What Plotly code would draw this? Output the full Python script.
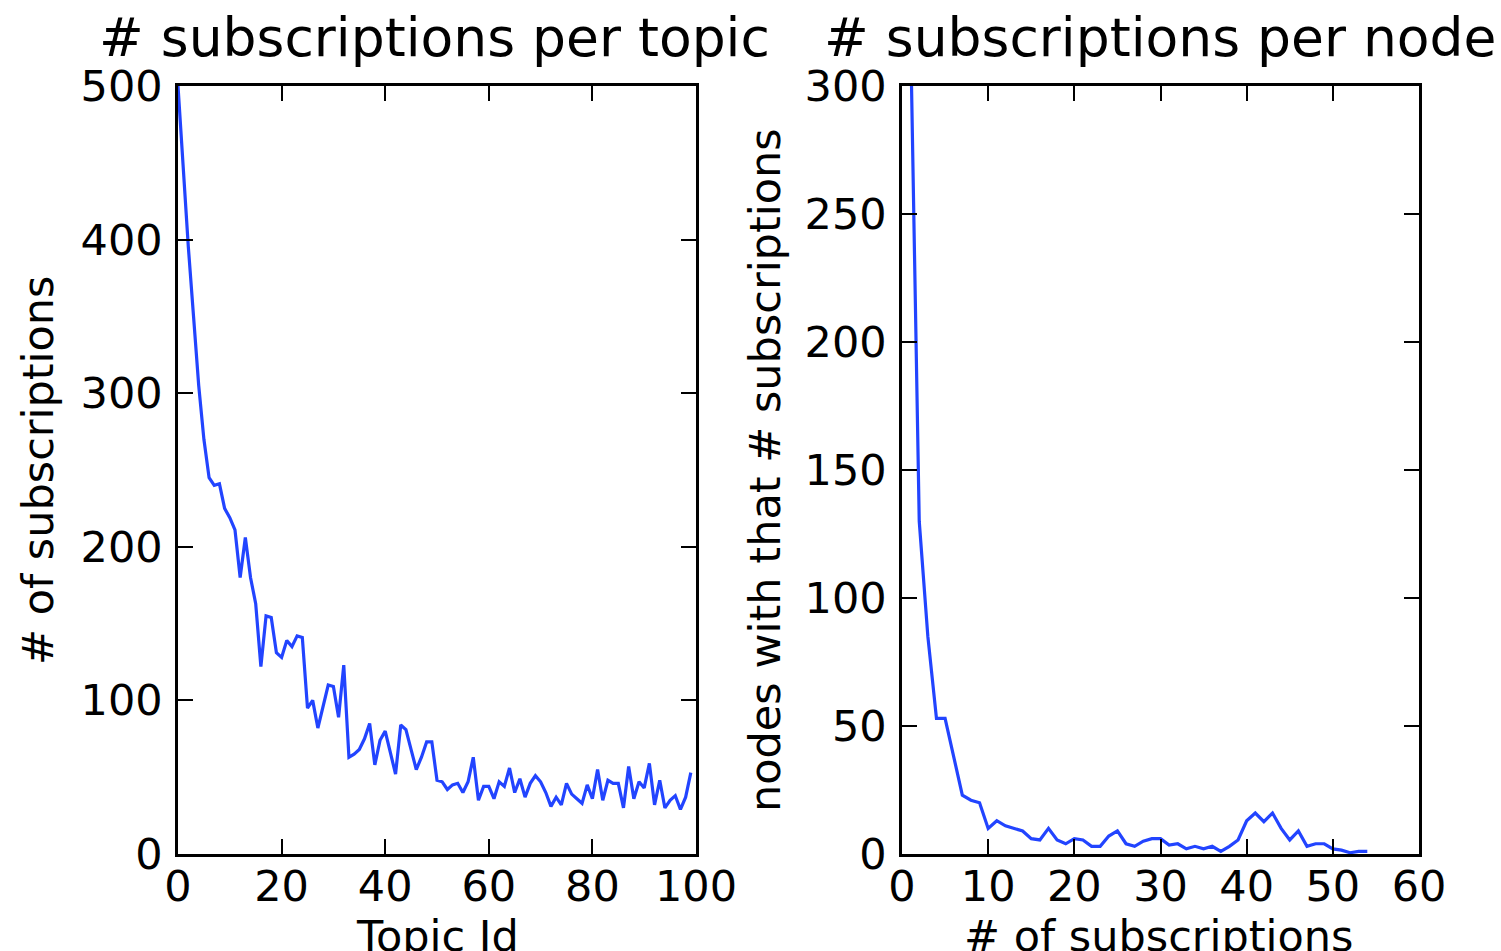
import plotly.graph_objects as go

# Left panel: subscriptions per topic (topic id 0..99)
topic_ids = list(range(100))
topic_subs = [
    500, 445, 395, 350, 305, 270, 245, 240, 241, 225,
    219, 211, 180, 206, 180, 163, 122, 155, 154, 131,
    128, 139, 135, 142, 141, 95, 100, 82, 95, 110,
    109, 89, 123, 63, 65, 68, 75, 85, 58, 74,
    80, 65, 52, 84, 81, 68, 55, 63, 73, 73,
    48, 47, 42, 45, 46, 40, 47, 63, 35, 44,
    44, 36, 47, 44, 56, 40, 49, 37, 46, 51,
    47, 40, 31, 37, 32, 46, 39, 36, 33, 45,
    36, 55, 35, 48, 46, 46, 30, 57, 36, 47,
    43, 59, 32, 48, 30, 35, 38, 29, 37, 53,
]

# Right panel: number of nodes having a given number of subscriptions
n_subs = list(range(1, 55))
n_nodes = [
    320, 130, 85, 53, 53, 38, 23, 21, 20, 10,
    13, 11, 10, 9, 6, 5.5, 10, 5.5, 4, 6,
    5.5, 3, 3, 7, 9, 4, 3, 5, 6, 6,
    3.5, 4, 2, 3, 2, 3, 1, 3, 5.5, 13,
    16, 12.6, 16, 10, 5.5, 9, 3, 4, 4, 2,
    1.5, 0.5, 1, 1,
]

left_xticks = [0, 20, 40, 60, 80, 100]
left_yticks = [0, 100, 200, 300, 400, 500]
right_xticks = [0, 10, 20, 30, 40, 50, 60]
right_yticks = [0, 50, 100, 150, 200, 250, 300]

W, H = 1501, 951
FONT = "DejaVu Sans"
TICK_SIZE = 43
TITLE_SIZE = 53.5
LINE_COLOR = "#2244ff"

fig = go.Figure()
fig.add_trace(go.Scatter(x=topic_ids, y=topic_subs, mode="lines",
                         line=dict(color=LINE_COLOR, width=3.2),
                         xaxis="x", yaxis="y", showlegend=False))
fig.add_trace(go.Scatter(x=n_subs, y=n_nodes, mode="lines",
                         line=dict(color=LINE_COLOR, width=3.2),
                         xaxis="x2", yaxis="y2", showlegend=False))

ytop = 1 - 86 / H
ybot = 1 - 854 / H

axis_common = dict(
    showgrid=False, zeroline=False, showline=True, linecolor="black",
    linewidth=2.5, mirror="ticks", ticks="inside", ticklen=15,
    tickwidth=1.8, tickcolor="black", automargin=False,
    tickfont=dict(family=FONT, size=TICK_SIZE, color="black"),
)


def label(text, xpx, ypx, size, angle=0):
    return dict(text=text, x=xpx / W, y=1 - ypx / H, xref="paper", yref="paper",
                xanchor="center", yanchor="middle", textangle=angle,
                showarrow=False, font=dict(family=FONT, size=size, color="black"))


fig.update_layout(
    template="none",
    width=W, height=H, autosize=False,
    margin=dict(l=0, r=0, t=0, b=0, pad=0),
    paper_bgcolor="white", plot_bgcolor="white",
    font=dict(family=FONT, color="black"),
    xaxis=dict(domain=[178 / W, 696 / W], range=[0, 100], tickvals=left_xticks,
               anchor="y", ticklabelstandoff=-7, **axis_common),
    yaxis=dict(domain=[ybot, ytop], range=[0, 500], tickvals=left_yticks,
               anchor="x", ticklabelstandoff=4, **axis_common),
    xaxis2=dict(domain=[902 / W, 1419 / W], range=[0, 60], tickvals=right_xticks,
                anchor="y2", ticklabelstandoff=-7, **axis_common),
    yaxis2=dict(domain=[ybot, ytop], range=[0, 300], tickvals=right_yticks,
                anchor="x2", ticklabelstandoff=4, **axis_common),
    annotations=[
        label("# subscriptions per topic", 435, 38, TITLE_SIZE),
        label("# subscriptions per node", 1160, 38, TITLE_SIZE),
        label("Topic Id", 437, 936, TICK_SIZE),
        label("# of subscriptions", 1159, 936, TICK_SIZE),
        label("# of subscriptions", 38, 470, TICK_SIZE, -90),
        label("nodes with that # subscriptions", 765, 470, TICK_SIZE, -90),
    ],
)

fig.write_html("out.html", config={"displayModeBar": False},
               post_script="document.body.style.margin='0';document.body.style.overflow='hidden';")
